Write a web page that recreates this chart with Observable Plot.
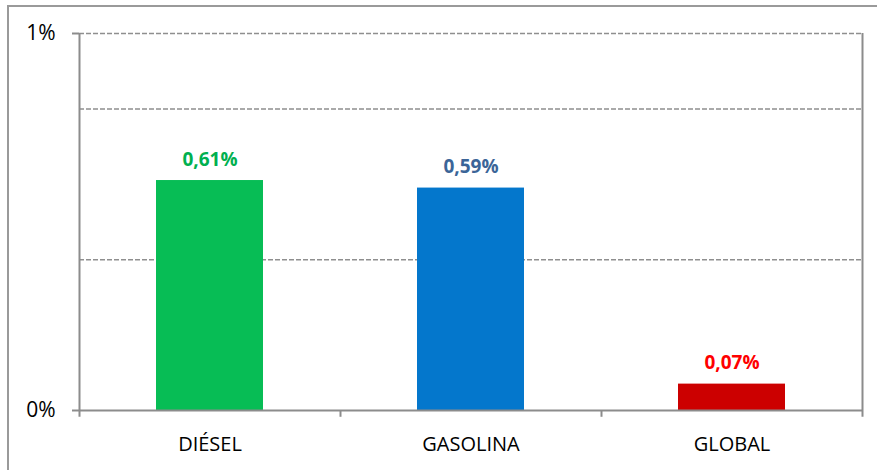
<!DOCTYPE html>
<html><head><meta charset="utf-8">
<script src="https://cdn.jsdelivr.net/npm/d3@7"></script>
<script src="https://cdn.jsdelivr.net/npm/@observablehq/plot@0.6"></script>
<style>
html,body{margin:0;padding:0;background:#fff;overflow:hidden;width:877px;height:470px;}
#wrap{position:relative;width:877px;height:470px;}
#border{position:absolute;left:7px;top:5px;width:900px;height:500px;border:2px solid #9a9a9a;box-sizing:border-box;pointer-events:none;}
#wrap svg{position:absolute;left:0;top:0;}
</style></head><body><div id="wrap"><div id="border"></div></div>
<script>
const categories = ["DIÉSEL", "GASOLINA", "GLOBAL"];
const values = [0.61, 0.59, 0.07];
const valueLabels = ["0,61%", "0,59%", "0,07%"];
const barColors = ["#07BD55", "#0477CC", "#CC0000"];
const labelColors = ["#00B050", "#3B6598", "#FF0000"];
const gridValues = [0.4, 0.8, 1];
const yTicks = [0, 1];
const yTickLabels = ["0%", "1%"];

const data = categories.map((c, i) => ({cat: c, value: values[i], label: valueLabels[i], bar: barColors[i], lc: labelColors[i], i}));

const W = 877, H = 470, mL = 79, mR = 15, mT = 33, mB = 60;
const step = (W - mL - mR) / categories.length;
const axisGray = "#8c8c8c";

const chart = Plot.plot({
  width: W, height: H,
  marginLeft: mL, marginRight: mR, marginTop: mT, marginBottom: mB,
  style: {fontFamily: "'Open Sans', sans-serif", background: "transparent", color: "#000", overflow: "visible"},
  x: {domain: categories, paddingInner: 0.59, paddingOuter: 0.295},
  y: {domain: [0, 1]},
  color: {type: "identity"},
  marks: [
    Plot.ruleY(gridValues, {stroke: "#8f8f8f", strokeWidth: 1.5, strokeDasharray: "5,2"}),
    Plot.barY(data, {x: "cat", y: "value", fill: "bar"}),
    Plot.ruleY([0], {stroke: axisGray, strokeWidth: 2}),
    Plot.ruleX(data, {x: "cat", dx: -step / 2, y1: -0.018, y2: d => d.i === 0 ? 1 : 0, stroke: axisGray, strokeWidth: 2}),
    Plot.ruleX(data.slice(-1), {x: "cat", dx: step / 2, y1: -0.018, y2: 1, stroke: axisGray, strokeWidth: 2}),
    Plot.text(data, {x: "cat", y: "value", text: "label", dy: -21, fill: "lc", fontWeight: "bold", fontSize: 19}),
    Plot.axisY({ticks: yTicks, tickFormat: d => yTickLabels[yTicks.indexOf(d)], tickSize: 7, tickPadding: 17, fontSize: 21, stroke: axisGray, strokeWidth: 2, label: null}),
    Plot.axisX({tickSize: 0, tickPadding: 26, fontSize: 20, label: null})
  ]
});
document.getElementById("wrap").appendChild(chart);
</script>
</body></html>
